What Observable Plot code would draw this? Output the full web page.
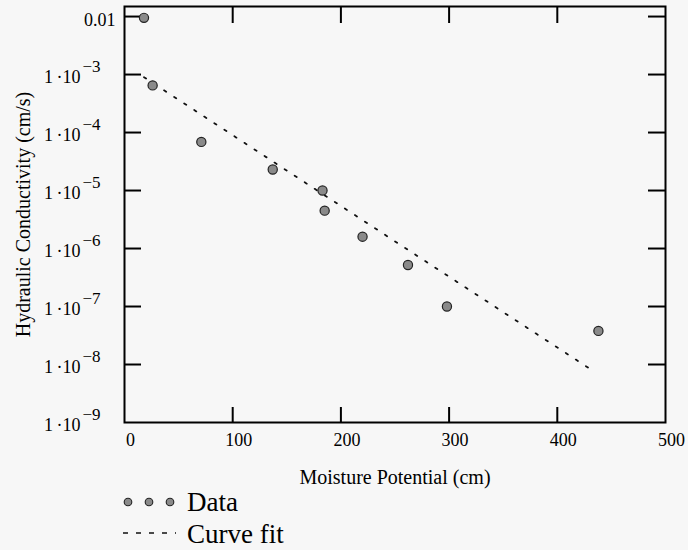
<!DOCTYPE html>
<html><head><meta charset="utf-8">
<script src="https://cdn.jsdelivr.net/npm/d3@7"></script>
<script src="https://cdn.jsdelivr.net/npm/@observablehq/plot@0.6"></script>
<style>
body{margin:0;background:#f7f7f7;font-family:"Liberation Serif","Times New Roman",serif;}
#chart{width:688px;height:550px;overflow:hidden;}
#chart svg{display:block;}
#legend{margin-top:-14px;}
</style></head><body><div id="chart"></div>
<script>
// Measured data
const potential = [18, 26, 71, 137, 183, 185, 220, 262, 298, 438];
const conductivity = [9.5e-3, 6.5e-4, 6.9e-5, 2.3e-5, 1.0e-5, 4.5e-6, 1.6e-6, 5.2e-7, 1.0e-7, 3.8e-8];
// Curve fit (straight in log space)
const fitPotential = [18, 429];
const fitConductivity = [9.0e-4, 8.7e-9];
// Ticks
const xTicks = [0, 100, 200, 300, 400, 500];
const xTickMarks = [100, 200, 300, 400];
const yTickMarks = [1e-2, 1e-3, 1e-4, 1e-5, 1e-6, 1e-7, 1e-8];
const yTopLabel = ["0.01"];
const yTopValue = [1e-2];
const yPowValues = [1e-3, 1e-4, 1e-5, 1e-6, 1e-7, 1e-8, 1e-9];
const yPowExponents = ["\u22123", "\u22124", "\u22125", "\u22126", "\u22127", "\u22128", "\u22129"];
const yPowBase = "1\u2009\u00b710";
const xLabel = "Moisture Potential (cm)";
const yLabel = "Hydraulic Conductivity (cm/s)";
const legendLabels = ["Data", "Curve fit"];

const points = potential.map((p, i) => ({p, k: conductivity[i]}));
const fit = fitPotential.map((p, i) => ({p, k: fitConductivity[i]}));

const W = 688, H = 492, mL = 124, mR = 23, mT = 6, mB = 70;
const iW = W - mL - mR, iH = H - mT - mB;
const font = "'Liberation Serif','Times New Roman',serif";

const chart = Plot.plot({
  width: W, height: H,
  marginLeft: mL, marginRight: mR, marginTop: mT, marginBottom: mB,
  style: {background: "transparent", fontFamily: font, color: "black"},
  x: {domain: [0, 500], axis: null},
  y: {type: "log", domain: [1e-9, 0.0149], axis: null},
  marks: [
    Plot.tickY(yTickMarks, {y: d => d, insetRight: iW - 17, stroke: "black", strokeWidth: 2}),
    Plot.tickY(yTickMarks, {y: d => d, insetLeft: iW - 17, stroke: "black", strokeWidth: 2}),
    Plot.tickX(xTickMarks, {x: d => d, insetTop: iH - 15, stroke: "black", strokeWidth: 2}),
    Plot.tickX(xTickMarks, {x: d => d, insetBottom: iH - 17, stroke: "black", strokeWidth: 2}),
    Plot.frame({stroke: "black", strokeWidth: 2}),
    Plot.line(fit, {x: "p", y: "k", stroke: "#111", strokeWidth: 1.8, strokeDasharray: "2.5,9.5"}),
    Plot.dot(points, {x: "p", y: "k", r: 4.6, fill: "#8a8a8a", stroke: "#222", strokeWidth: 1.2}),
    Plot.text(xTicks, {x: d => d, text: d => String(d), frameAnchor: "bottom", lineAnchor: "middle", dy: 17.5, dx: 6, fontSize: 18, fill: "black"}),
    Plot.text(yTopValue, {y: d => d, text: (d, i) => yTopLabel[i], frameAnchor: "left", textAnchor: "end", lineAnchor: "middle", dx: -9, dy: 4, fontSize: 18, fill: "black"}),
    Plot.text(yPowValues, {y: d => d, text: () => yPowBase, frameAnchor: "left", textAnchor: "end", lineAnchor: "middle", dx: -44, dy: 3, fontSize: 18, fill: "black"}),
    Plot.text(yPowValues, {y: d => d, text: (d, i) => yPowExponents[i], frameAnchor: "left", textAnchor: "start", lineAnchor: "middle", dx: -42, dy: -8, fontSize: 17, fill: "black"}),
    Plot.text([xLabel], {text: d => d, frameAnchor: "bottom", textAnchor: "middle", lineAnchor: "middle", dy: 55, fontSize: 20, fill: "black"}),
    Plot.text([yLabel], {text: d => d, frameAnchor: "left", textAnchor: "middle", lineAnchor: "middle", rotate: -90, dx: -101, fontSize: 20, fill: "black"})
  ]
});
document.getElementById("chart").appendChild(chart);

// Legend below the plot (svg overlaps the plot's empty bottom margin by 14px)
const off = 14;
const leg = d3.select("#chart").append("svg").attr("id", "legend").attr("width", W).attr("height", 72)
  .style("font-family", font);
const dotsX = [128, 149, 170];
leg.selectAll("circle").data(dotsX).join("circle")
  .attr("cx", d => d).attr("cy", 10 + off).attr("r", 3.8)
  .attr("fill", "#8a8a8a").attr("stroke", "#222").attr("stroke-width", 1.1);
leg.append("line").attr("x1", 123).attr("x2", 176).attr("y1", 41 + off).attr("y2", 41 + off)
  .attr("stroke", "#111").attr("stroke-width", 1.5).attr("stroke-dasharray", "5,8");
leg.append("text").attr("x", 187).attr("y", 19 + off).attr("font-size", 27).attr("fill", "black").text(legendLabels[0]);
leg.append("text").attr("x", 187).attr("y", 51 + off).attr("font-size", 27).attr("fill", "black").text(legendLabels[1]);
</script></body></html>
